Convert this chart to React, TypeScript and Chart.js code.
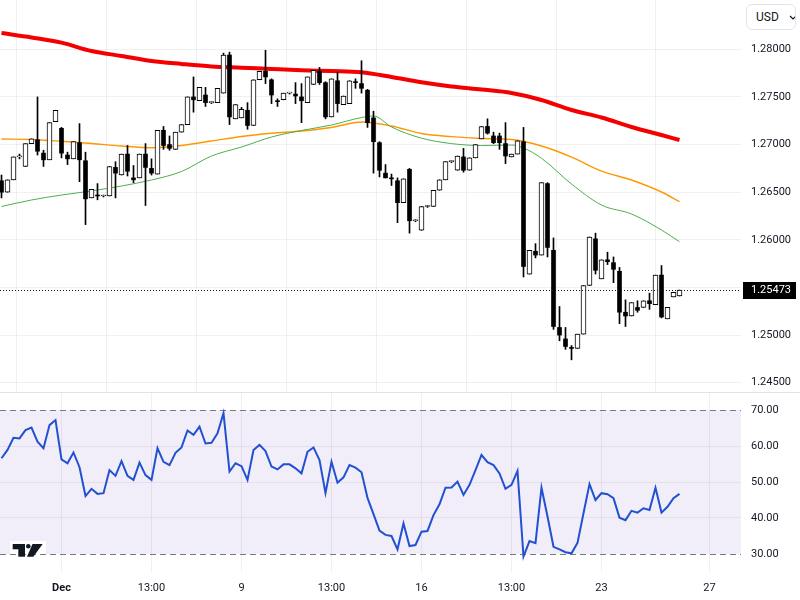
import React, { useEffect, useRef } from 'react';
import { Chart, registerables } from 'chart.js';

Chart.register(...registerables);

// ---------- data ----------
const candleOpen = [
  1.2662, 1.2650, 1.2663, 1.2687, 1.2677, 1.2701, 1.2705, 1.2691, 1.2684, 1.2724,
  1.2717, 1.2689, 1.2685, 1.2702, 1.2683, 1.2644, 1.2647, 1.2646, 1.2646, 1.2676,
  1.2668, 1.2690, 1.2665, 1.2665, 1.2690, 1.2675, 1.2669, 1.2715, 1.2700, 1.2695,
  1.2713, 1.2721, 1.2750, 1.2746, 1.2752, 1.2744, 1.2744, 1.2754, 1.2794, 1.2727,
  1.2728, 1.2736, 1.2720, 1.2768, 1.2777, 1.2768, 1.2746, 1.2747, 1.2754, 1.2753,
  1.2750, 1.2744, 1.2763, 1.2777, 1.2765, 1.2729, 1.2767, 1.2742, 1.2743, 1.2766,
  1.2764, 1.2757, 1.2728, 1.2702, 1.2670, 1.2665, 1.2662, 1.2639, 1.2674, 1.2620,
  1.2610, 1.2635, 1.2635, 1.2652, 1.2663, 1.2682, 1.2673, 1.2687, 1.2673, 1.2686,
  1.2706, 1.2719, 1.2709, 1.2709, 1.2701, 1.2687, 1.2690, 1.2703, 1.2564, 1.2588,
  1.2584, 1.2659, 1.2589, 1.2508, 1.2496, 1.2487, 1.2486, 1.2501, 1.2552, 1.2601,
  1.2559, 1.2579, 1.2576, 1.2567, 1.2524, 1.2520, 1.2529, 1.2529, 1.2536, 1.2532,
  1.2563, 1.2517, 1.2540, 1.2541,
];
const candleHigh = [
  1.2668, 1.2663, 1.2687, 1.2690, 1.2701, 1.2706, 1.2750, 1.2694, 1.2723, 1.2736,
  1.2718, 1.2692, 1.2703, 1.2722, 1.2692, 1.2653, 1.2659, 1.2647, 1.2677, 1.2682,
  1.2690, 1.2699, 1.2678, 1.2690, 1.2701, 1.2685, 1.2715, 1.2719, 1.2709, 1.2713,
  1.2721, 1.2750, 1.2771, 1.2760, 1.2760, 1.2745, 1.2759, 1.2796, 1.2797, 1.2742,
  1.2739, 1.2744, 1.2768, 1.2777, 1.2799, 1.2769, 1.2748, 1.2754, 1.2755, 1.2765,
  1.2764, 1.2771, 1.2778, 1.2781, 1.2766, 1.2769, 1.2776, 1.2751, 1.2767, 1.2769,
  1.2788, 1.2758, 1.2735, 1.2703, 1.2679, 1.2669, 1.2665, 1.2664, 1.2675, 1.2621,
  1.2635, 1.2636, 1.2652, 1.2663, 1.2682, 1.2683, 1.2688, 1.2696, 1.2686, 1.2700,
  1.2719, 1.2727, 1.2713, 1.2712, 1.2723, 1.2690, 1.2704, 1.2718, 1.2589, 1.2596,
  1.2660, 1.2660, 1.2602, 1.2530, 1.2508, 1.2489, 1.2501, 1.2552, 1.2603, 1.2607,
  1.2579, 1.2587, 1.2582, 1.2571, 1.2537, 1.2534, 1.2536, 1.2536, 1.2544, 1.2563,
  1.2573, 1.2529, 1.2545, 1.25473,
];
const candleLow = [
  1.2644, 1.2650, 1.2663, 1.2685, 1.2677, 1.2701, 1.2689, 1.2677, 1.2684, 1.2724,
  1.2686, 1.2679, 1.2685, 1.2661, 1.2616, 1.2644, 1.2642, 1.2645, 1.2646, 1.2644,
  1.2668, 1.2667, 1.2660, 1.2665, 1.2636, 1.2668, 1.2669, 1.2695, 1.2694, 1.2695,
  1.2713, 1.2721, 1.2734, 1.2746, 1.2740, 1.2743, 1.2744, 1.2754, 1.2721, 1.2727,
  1.2728, 1.2716, 1.2720, 1.2768, 1.2764, 1.2743, 1.2740, 1.2747, 1.2753, 1.2743,
  1.2723, 1.2744, 1.2763, 1.2763, 1.2727, 1.2729, 1.2734, 1.2742, 1.2743, 1.2759,
  1.2754, 1.2718, 1.2670, 1.2666, 1.2665, 1.2657, 1.2618, 1.2639, 1.2607, 1.2619,
  1.2610, 1.2634, 1.2635, 1.2652, 1.2663, 1.2681, 1.2673, 1.2671, 1.2673, 1.2686,
  1.2706, 1.2711, 1.2701, 1.2695, 1.2680, 1.2687, 1.2690, 1.2561, 1.2564, 1.2581,
  1.2584, 1.2582, 1.2506, 1.2494, 1.2485, 1.2474, 1.2486, 1.2501, 1.2552, 1.2564,
  1.2559, 1.2574, 1.2555, 1.2512, 1.2509, 1.2520, 1.2524, 1.2529, 1.2527, 1.2532,
  1.2518, 1.2517, 1.2540, 1.2541,
];
const candleClose = [
  1.2650, 1.2663, 1.2687, 1.2688, 1.2701, 1.2706, 1.2693, 1.2684, 1.2723, 1.2736,
  1.2691, 1.2685, 1.2703, 1.2684, 1.2643, 1.2653, 1.2646, 1.2646, 1.2677, 1.2670,
  1.2690, 1.2672, 1.2663, 1.2690, 1.2676, 1.2670, 1.2715, 1.2699, 1.2696, 1.2713,
  1.2721, 1.2750, 1.2747, 1.2760, 1.2744, 1.2744, 1.2759, 1.2794, 1.2729, 1.2742,
  1.2737, 1.2720, 1.2768, 1.2777, 1.2771, 1.2752, 1.2745, 1.2754, 1.2754, 1.2751,
  1.2746, 1.2771, 1.2778, 1.2765, 1.2729, 1.2769, 1.2743, 1.2751, 1.2767, 1.2765,
  1.2759, 1.2723, 1.2703, 1.2673, 1.2665, 1.2664, 1.2639, 1.2664, 1.2620, 1.2620,
  1.2635, 1.2635, 1.2652, 1.2663, 1.2682, 1.2682, 1.2688, 1.2673, 1.2686, 1.2700,
  1.2719, 1.2712, 1.2702, 1.2702, 1.2688, 1.2690, 1.2704, 1.2572, 1.2589, 1.2584,
  1.2660, 1.2592, 1.2509, 1.2500, 1.2488, 1.2486, 1.2501, 1.2552, 1.2603, 1.2568,
  1.2579, 1.2577, 1.2569, 1.2524, 1.2520, 1.2534, 1.2526, 1.2536, 1.2533, 1.2563,
  1.2519, 1.2529, 1.2545, 1.25473,
];

const maRedIdx = [0, 5, 10, 15, 20, 25, 30, 35, 40, 45, 50, 55, 60, 65, 70, 75, 80, 85, 90, 95, 100, 105, 110, 113];
const maRed = [1.2817, 1.28124, 1.2807, 1.27982, 1.2793, 1.27877, 1.27846, 1.2782, 1.27807, 1.27793, 1.2778, 1.27772, 1.27759, 1.27709, 1.27654, 1.2761, 1.27578, 1.27541, 1.27468, 1.27363, 1.27284, 1.27184, 1.271, 1.27048];
const maOrangeIdx = [0, 5, 10, 15, 20, 25, 30, 35, 40, 45, 50, 55, 60, 65, 70, 75, 80, 85, 90, 95, 100, 105, 110, 113];
const maOrange = [1.27058, 1.27053, 1.27034, 1.27011, 1.26985, 1.26967, 1.2699, 1.27037, 1.27085, 1.27118, 1.27142, 1.27179, 1.27237, 1.27195, 1.27116, 1.27083, 1.27064, 1.27053, 1.26985, 1.26869, 1.26722, 1.26628, 1.26502, 1.264];
const maGreenIdx = [0, 5, 10, 15, 20, 25, 30, 35, 40, 45, 50, 55, 60, 62, 65, 70, 75, 80, 85, 87, 90, 95, 100, 105, 110, 113];
const maGreen = [1.2635, 1.26418, 1.2647, 1.26513, 1.26565, 1.26628, 1.26717, 1.2688, 1.26974, 1.27079, 1.27148, 1.27205, 1.27284, 1.273, 1.27184, 1.27067, 1.2701, 1.2699, 1.26995, 1.26964, 1.26856, 1.26586, 1.26365, 1.26271, 1.26103, 1.2598];

const rsiValues = [
  56.6, 58.9, 62.3, 62.1, 64.4, 65.1, 61.2, 59.4, 65.8, 67.2,
  56.3, 55.2, 58.2, 54.1, 46.1, 48.1, 46.7, 46.9, 53.3, 51.7,
  55.8, 51.7, 50.6, 55.4, 51.9, 50.6, 59.4, 55.6, 54.7, 58.1,
  59.6, 64.3, 63.1, 65.4, 60.7, 60.9, 63.5, 69.1, 52.9, 55.2,
  54.4, 50.6, 58.9, 60.3, 58.6, 54.3, 53.5, 54.9, 54.9, 53.8,
  52.4, 58.4, 59.6, 56.1, 46.9, 55.6, 49.8, 51.3, 54.7, 54.0,
  52.7, 45.6, 41.1, 36.5, 35.3, 35.0, 31.3, 38.5, 32.2, 32.5,
  36.2, 36.4, 40.8, 43.8, 48.4, 48.5, 50.1, 46.4, 49.2, 53.3,
  57.5, 55.5, 54.7, 52.4, 48.1, 49.2, 53.1, 29.3, 33.6, 33.0,
  48.4, 40.4, 32.0, 31.3, 30.5, 30.2, 33.1, 41.3, 49.4, 45.0,
  46.9, 46.6, 45.5, 40.1, 39.4, 42.0, 41.5, 42.7, 42.2, 48.4,
  41.5, 43.1, 45.5, 46.7,
];

const priceTicks = [1.245, 1.25, 1.255, 1.26, 1.265, 1.27, 1.275, 1.28];
const rsiTicks = [30, 40, 50, 60, 70];
const timeTickIdx = [10, 25, 40, 55, 70, 85, 100, 118];
const timeLabels = ['Dec', '13:00', '9', '13:00', '16', '13:00', '23', '27'];
const lastPrice = 1.25473;
const currencyLabel = 'USD';

// ---------- layout / style ----------
const X_MIN = -0.25;
const X_MAX = 123.25;
const Y_MIN = 1.244024;
const Y_MAX = 1.285175;
const RSI_MIN = 25;
const RSI_MAX = 75;
const FONT = "Roboto, 'Liberation Sans', Arial, sans-serif";
const TEXT = '#131722';
const GRID = 'rgba(42,46,57,0.07)';

const fitY = (s: any) => {
  s.width = 59;
  s.paddingTop = 0;
  s.paddingBottom = 0;
  s.paddingLeft = 0;
  s.paddingRight = 0;
};

const pricePlugin = {
  id: 'priceLine',
  afterDatasetsDraw(chart: any) {
    const { ctx, chartArea, scales } = chart;
    const py = Math.round(scales.y.getPixelForValue(lastPrice)) + 0.5;
    ctx.save();
    ctx.strokeStyle = '#131722';
    ctx.lineWidth = 1;
    ctx.setLineDash([1, 2]);
    ctx.beginPath();
    ctx.moveTo(chartArea.left, py);
    ctx.lineTo(chartArea.right, py);
    ctx.stroke();
    ctx.restore();
  },
  afterDraw(chart: any) {
    const { ctx, chartArea, scales } = chart;
    const py = Math.round(scales.y.getPixelForValue(lastPrice));
    ctx.save();
    ctx.fillStyle = '#000000';
    ctx.fillRect(chartArea.right + 2, py - 8, 53, 17);
    ctx.fillStyle = '#ffffff';
    ctx.font = `11px ${FONT}`;
    ctx.textBaseline = 'middle';
    ctx.textAlign = 'left';
    ctx.fillText(lastPrice.toFixed(5), chartArea.right + 10, py + 0.5);
    ctx.restore();
  },
};

const rsiPlugin = {
  id: 'rsiBand',
  beforeDraw(chart: any) {
    const { ctx, chartArea, scales } = chart;
    const y70 = scales.y.getPixelForValue(70);
    const y30 = scales.y.getPixelForValue(30);
    ctx.save();
    ctx.fillStyle = 'rgba(126,87,194,0.1)';
    ctx.fillRect(chartArea.left, y70, chartArea.right - chartArea.left, y30 - y70);
    ctx.restore();
  },
  beforeDatasetsDraw(chart: any) {
    const { ctx, chartArea, scales } = chart;
    ctx.save();
    ctx.strokeStyle = '#787b86';
    ctx.lineWidth = 1;
    ctx.setLineDash([6, 4]);
    [70, 30].forEach((v) => {
      const py = Math.round(scales.y.getPixelForValue(v)) + 0.5;
      ctx.beginPath();
      ctx.moveTo(chartArea.left, py);
      ctx.lineTo(chartArea.right, py);
      ctx.stroke();
    });
    ctx.restore();
  },
  afterDraw(chart: any) {
    const { ctx } = chart;
    ctx.save();
    ctx.strokeStyle = '#e0e3eb';
    ctx.lineWidth = 1;
    ctx.beginPath();
    ctx.moveTo(0, 0.5);
    ctx.lineTo(chart.width, 0.5);
    ctx.stroke();
    // logo
    ctx.fillStyle = '#ffffff';
    ctx.fillRect(10, 149, 36, 13);
    ctx.fillStyle = '#131722';
    ctx.fillRect(12.7, 152, 12.3, 5.3);
    ctx.fillRect(18.3, 152, 6.7, 12.7);
    ctx.beginPath();
    ctx.arc(28.3, 154.3, 2.3, 0, Math.PI * 2);
    ctx.fill();
    ctx.beginPath();
    ctx.moveTo(32.5, 152);
    ctx.lineTo(42.7, 152);
    ctx.lineTo(33.3, 164.7);
    ctx.lineTo(27, 164.7);
    ctx.closePath();
    ctx.fill();
    ctx.restore();
  },
};

export default function App() {
  const topRef = useRef<HTMLCanvasElement | null>(null);
  const rsiRef = useRef<HTMLCanvasElement | null>(null);

  useEffect(() => {
    if (!topRef.current || !rsiRef.current) return;
    const idx = candleOpen.map((_, i) => i);
    const wickData = idx.map((i) => ({ x: i, y: [candleLow[i], candleHigh[i]] }));
    const upData = idx
      .filter((i) => candleClose[i] >= candleOpen[i])
      .map((i) => ({ x: i, y: [candleOpen[i], candleClose[i]] }));
    const downData = idx
      .filter((i) => candleClose[i] < candleOpen[i])
      .map((i) => ({ x: i, y: [candleOpen[i], candleClose[i]] }));

    const xScaleBase = {
      type: 'linear' as const,
      min: X_MIN,
      max: X_MAX,
      offset: false,
      afterBuildTicks: (a: any) => {
        a.ticks = timeTickIdx.map((v) => ({ value: v }));
      },
      grid: { color: GRID, drawTicks: false },
      border: { display: false },
    };

    const top = new Chart(topRef.current, {
      type: 'bar',
      data: {
        datasets: [
          {
            type: 'line',
            data: maRedIdx.map((x, k) => ({ x, y: maRed[k] })),
            borderColor: '#f50000',
            borderWidth: 4,
            pointRadius: 0,
            cubicInterpolationMode: 'monotone',
            order: 7,
          } as any,
          {
            type: 'line',
            data: maOrangeIdx.map((x, k) => ({ x, y: maOrange[k] })),
            borderColor: '#ff9800',
            borderWidth: 1.4,
            pointRadius: 0,
            cubicInterpolationMode: 'monotone',
            order: 6,
          } as any,
          {
            type: 'line',
            data: maGreenIdx.map((x, k) => ({ x, y: maGreen[k] })),
            borderColor: '#4caf50',
            borderWidth: 1,
            pointRadius: 0,
            cubicInterpolationMode: 'monotone',
            order: 5,
          } as any,
          {
            type: 'bar',
            data: wickData,
            backgroundColor: '#000000',
            barThickness: 1,
            grouped: false,
            order: 3,
          } as any,
          {
            type: 'bar',
            data: downData,
            backgroundColor: '#000000',
            borderWidth: 0,
            barThickness: 4,
            grouped: false,
            minBarLength: 1,
            order: 1,
          } as any,
          {
            type: 'bar',
            data: upData,
            backgroundColor: '#ffffff',
            borderColor: '#000000',
            borderWidth: 1,
            borderSkipped: false,
            barThickness: 5,
            grouped: false,
            minBarLength: 1,
            order: 0,
          } as any,
        ],
      },
      options: {
        animation: false,
        responsive: false,
        events: [],
        layout: { padding: 0, autoPadding: false },
        plugins: { legend: { display: false }, tooltip: { enabled: false } },
        scales: {
          x: {
            ...xScaleBase,
            ticks: { display: false },
            afterFit: (s: any) => {
              s.height = 0;
              s.paddingLeft = 0;
              s.paddingRight = 0;
              s.paddingTop = 0;
              s.paddingBottom = 0;
            },
          } as any,
          y: {
            position: 'right',
            min: Y_MIN,
            max: Y_MAX,
            afterBuildTicks: (a: any) => {
              a.ticks = priceTicks.map((v) => ({ value: v }));
            },
            ticks: {
              callback: (v: any) => Number(v).toFixed(5),
              padding: 10,
              color: TEXT,
              font: { family: FONT, size: 11 },
            },
            grid: { color: GRID, drawTicks: false },
            border: { display: false },
            afterFit: fitY,
          } as any,
        },
      },
      plugins: [pricePlugin],
    });

    const rsi = new Chart(rsiRef.current, {
      type: 'line',
      data: {
        datasets: [
          {
            data: rsiValues.map((v, i) => ({ x: i, y: v })),
            borderColor: '#2151d1',
            borderWidth: 2,
            pointRadius: 0,
            tension: 0,
          },
        ],
      },
      options: {
        animation: false,
        responsive: false,
        events: [],
        layout: { padding: 0, autoPadding: false },
        plugins: { legend: { display: false }, tooltip: { enabled: false } },
        scales: {
          x: {
            ...xScaleBase,
            ticks: {
              callback: (v: any) => {
                const k = timeTickIdx.indexOf(Number(v));
                return k >= 0 ? timeLabels[k] : '';
              },
              color: TEXT,
              padding: 10,
              maxRotation: 0,
              autoSkip: false,
              font: (c: any) => ({ family: FONT, size: 11, weight: c.index === 0 ? 'bold' : 'normal' }),
            },
            afterFit: (s: any) => {
              s.height = 28;
              s.paddingLeft = 0;
              s.paddingRight = 0;
              s.paddingTop = 0;
              s.paddingBottom = 0;
            },
          } as any,
          y: {
            position: 'right',
            min: RSI_MIN,
            max: RSI_MAX,
            afterBuildTicks: (a: any) => {
              a.ticks = rsiTicks.map((v) => ({ value: v }));
            },
            ticks: {
              callback: (v: any) => Number(v).toFixed(2),
              padding: 10,
              color: TEXT,
              font: { family: FONT, size: 11 },
            },
            grid: {
              color: (c: any) =>
                c.tick && (c.tick.value === 70 || c.tick.value === 30) ? 'rgba(0,0,0,0)' : GRID,
              drawTicks: false,
            },
            border: { display: false },
            afterFit: fitY,
          } as any,
        },
      },
      plugins: [rsiPlugin],
    });

    return () => {
      top.destroy();
      rsi.destroy();
    };
  }, []);

  return (
    <div style={{ position: 'absolute', left: 0, top: 0, width: 800, height: 600, background: '#ffffff', overflow: 'hidden' }}>
      <canvas ref={topRef} width={800} height={392} style={{ position: 'absolute', left: 0, top: 0 }} />
      <canvas ref={rsiRef} width={800} height={208} style={{ position: 'absolute', left: 0, top: 392 }} />
      <div
        style={{
          position: 'absolute',
          left: 746,
          top: 4,
          width: 50,
          height: 26,
          boxSizing: 'border-box',
          border: '1px solid #e0e3eb',
          borderRadius: 6,
          fontFamily: FONT,
          fontSize: 12,
          color: TEXT,
          display: 'flex',
          alignItems: 'center',
          paddingLeft: 9,
          background: '#ffffff',
        }}
      >
        <span>{currencyLabel}</span>
        <svg width="8" height="5" style={{ marginLeft: 10 }}>
          <polyline points="1,1 4,4 7,1" fill="none" stroke={TEXT} strokeWidth="1.2" />
        </svg>
      </div>
    </div>
  );
}
